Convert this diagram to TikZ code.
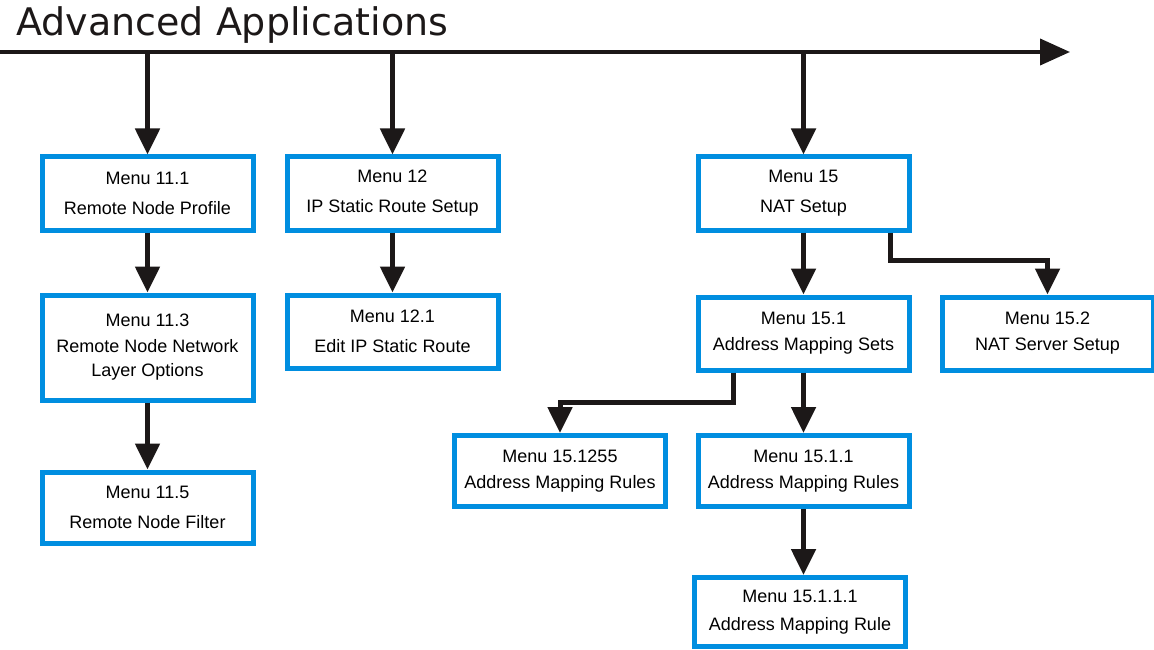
\documentclass[tikz,border=0pt]{standalone}
\usepackage{fontspec}
\setmainfont{Liberation Sans}
\newfontfamily\titlefont{DejaVu Sans}
\usetikzlibrary{arrows.meta}
\definecolor{boxblue}{RGB}{0,142,224}
\definecolor{ink}{RGB}{28,24,24}
\begin{document}
\begin{tikzpicture}[x=1pt,y=-1pt,
  menubox/.style={draw=boxblue,line width=5pt,fill=white,
    minimum width=211pt,minimum height=73pt,align=center,inner sep=0pt,
    font=\fontsize{18}{30}\selectfont},
  link/.style={draw=ink,line width=5pt,
    -{Triangle[length=26pt,width=24pt]}},
  timeline/.style={draw=ink,line width=4pt,
    -{Triangle[length=30pt,width=26pt]}}]
\useasboundingbox (0,0) rectangle (1154,650);

% title and the horizontal time line
\node[anchor=base west,inner sep=0pt,font=\titlefont\fontsize{38}{40}\selectfont,text=ink]
  (title) at (16,36) {Advanced Applications};
\coordinate (lstart) at (0,52);
\coordinate (lend) at (1070,52);
\draw[timeline] (lstart) -- (lend);

% menu boxes
\node[menubox] (m111) at (147.5,193.5) {Menu 11.1\\Remote Node Profile};
\node[menubox] (m12) at (392.5,193.5) {Menu 12\\IP Static Route Setup};
\node[menubox] (m15) at (803.5,193.5) {Menu 15\\NAT Setup};
\node[menubox,minimum height=105pt,font=\fontsize{18}{24}\selectfont]
  (m113) at (147.5,347.5) {Menu 11.3\\[2pt]Remote Node Network\\Layer Options};
\node[menubox] (m121) at (392.5,331.5) {Menu 12.1\\Edit IP Static Route};
\node[menubox,minimum height=71pt] (m1151) at (147.5,507.5) {Menu 11.5\\Remote Node Filter};
\node[menubox,font=\fontsize{18}{26}\selectfont] (m151) at (803.5,333.5) {Menu 15.1\\Address Mapping Sets};
\node[menubox,font=\fontsize{18}{26}\selectfont] (m152) at (1047.5,333.5) {Menu 15.2\\NAT Server Setup};
\node[menubox,minimum height=71pt,font=\fontsize{18}{26}\selectfont] (m1255) at (560,471) {Menu 15.1255\\Address Mapping Rules};
\node[menubox,minimum height=71pt,font=\fontsize{18}{26}\selectfont] (m1511) at (803.5,471) {Menu 15.1.1\\Address Mapping Rules};
\node[menubox,minimum height=69pt,font=\fontsize{18}{28}\selectfont] (m15111) at (800,612) {Menu 15.1.1.1\\Address Mapping Rule};

% drops from the time line
\draw[link] (m111.north |- lstart) -- (m111.north);
\draw[link] (m12.north |- lstart) -- (m12.north);
\draw[link] (m15.north |- lstart) -- (m15.north);

% links between menus
\draw[link] (m111) -- (m113);
\draw[link] (m113) -- (m1151);
\draw[link] (m12) -- (m121);
\draw[link] (m15) -- (m151);
\draw[link] (m151) -- (m1511);
\draw[link] (m1511.south) -- (m1511.south |- m15111.north);

\coordinate (b15) at (890,260);
\draw[link] (b15 |- m15.south) -- (b15) -| (m152.north);
\coordinate (b151) at (733,402);
\draw[link] (b151 |- m151.south) -- (b151) -| (m1255.north);
\end{tikzpicture}
\end{document}
